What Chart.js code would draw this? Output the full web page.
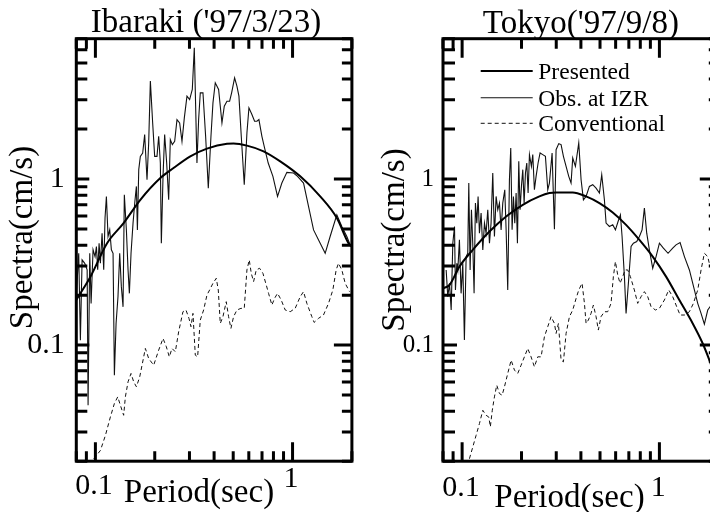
<!DOCTYPE html>
<html><head><meta charset="utf-8">
<script src="https://cdn.jsdelivr.net/npm/chart.js@4.4.1/dist/chart.umd.min.js"></script>
<style>
html,body{margin:0;padding:0;width:710px;height:512px;overflow:hidden;background:#fff;}
#wrap{position:relative;width:710px;height:512px;overflow:hidden;background:#fff;}
#c1{position:absolute;left:0;top:0;}
#c2{position:absolute;left:360px;top:0;}
</style></head><body>
<div id="wrap"><canvas id="c1" width="412" height="512"></canvas><canvas id="c2" width="380" height="512"></canvas></div>
<script>
const FONT = '"Liberation Serif", "Times New Roman", serif';

// ---------- shared axis definitions ----------
const seriesLabels = ['Presented', 'Obs. at IZR', 'Conventional'];
const xAxisTitle = 'Period(sec)';
const yAxisTitle = 'Spectra(cm/s)';
const xRange = [0.08, 2];
const yRange = [0.02, 7];
const xTickValues = [0.1, 1];
const xTickLabels = ['0.1', '1'];
const yTickValues = [0.1, 1];
const yTickLabels = ['0.1', '1'];
const xMajorTicks = [0.1, 1];
const xMinorTicks = [0.08, 0.09, 0.2, 0.3, 0.4, 0.5, 0.6, 0.7, 0.8, 0.9, 2];
const yMajorTicks = [0.1, 1];
const yMinorTicks = [0.02, 0.03, 0.04, 0.05, 0.06, 0.07, 0.08, 0.09, 0.2, 0.3, 0.4, 0.5, 0.6, 0.7, 0.8, 0.9, 2, 3, 4, 5, 6, 7];

// ---------- left panel: Ibaraki ----------
const leftTitle = "Ibaraki ('97/3/23)";
const leftPresentedX = [0.08, 0.0839, 0.0944, 0.1146, 0.139, 0.169, 0.2135, 0.249, 0.303, 0.368, 0.465, 0.502, 0.587, 0.713, 0.866, 1.094, 1.381, 1.678, 1.922, 2.0];
const leftPresentedY = [0.187, 0.205, 0.258, 0.411, 0.543, 0.750, 1.014, 1.165, 1.370, 1.524, 1.630, 1.636, 1.589, 1.469, 1.278, 1.038, 0.786, 0.582, 0.411, 0.39];
const leftObsX = [0.0801,0.0823,0.0839,0.0856,0.0883,0.0908,0.0918,0.0936,0.0951,0.0973,
0.0996,0.1012,0.1027,0.1044,0.1060,0.1081,0.1102,0.1119,0.1137,0.1159,
0.1182,0.1205,0.1229,0.1248,0.1273,0.1302,0.1328,0.1354,0.1381,0.1402,
0.1436,0.1464,0.1487,0.1516,0.1552,0.1583,0.1614,0.1633,0.1659,0.1690,
0.1737,0.1778,0.1827,0.1863,0.1900,0.1952,0.1998,0.2053,0.2094,0.2135,
0.2160,0.2203,0.2245,0.2299,0.2353,0.2399,0.2456,0.2524,0.2593,0.2675,
0.2749,0.2825,0.2914,0.3006,0.3101,0.3174,0.3274,0.3339,0.3404,0.3512,
0.3623,0.3738,0.3856,0.3947,0.4055,0.4216,0.4384,0.4505,0.4648,0.4795,
0.4908,0.5082,0.5222,0.5346,0.5494,0.5689,0.5869,0.6008,0.6221,0.6417,
0.6594,0.6751,0.6991,0.7211,0.7525,0.7950,0.8391,0.8826,0.9358,1.0116,
1.0600,1.137,1.205,1.278,1.381,1.464,1.551,1.677,1.778,1.885,1.960];
const leftObsY = [0.205,0.357,0.107,0.326,0.311,0.284,0.0434,0.357,0.178,0.375,
0.341,0.392,0.284,0.411,0.311,0.472,0.284,0.582,0.786,0.451,
0.494,0.375,0.357,0.0659,0.135,0.196,0.357,0.225,0.170,0.804,
0.494,0.284,0.205,0.357,0.543,0.717,0.903,0.494,1.139,1.370,
1.435,1.852,0.991,1.649,3.887,2.178,1.370,1.370,1.809,1.249,
0.411,1.038,1.852,1.249,0.750,1.727,1.612,1.688,2.281,2.178,
1.688,2.334,3.155,3.012,3.461,6.175,1.249,2.281,3.305,3.305,
1.809,0.882,1.809,2.875,3.798,3.461,2.178,2.746,2.943,2.943,
3.305,4.070,3.625,3.155,1.809,0.924,1.895,2.683,2.445,2.229,
2.229,2.281,1.809,1.539,1.249,1.038,0.786,0.946,1.097,1.087,
1.038,0.946,0.684,0.494,0.411,0.357,0.451,0.609,0.518,0.451,0.401];
const leftConvX = [0.0981,0.1060,0.1124,0.1191,0.1248,0.1298,0.1339,0.1391,0.1419,0.1464,
0.1516,0.1564,0.1614,0.1678,0.1758,0.1792,0.1863,0.1975,0.2094,0.2203,
0.2290,0.2371,0.2446,0.2543,0.2644,0.2780,0.2880,0.2983,0.3053,0.3125,
0.3211,0.3300,0.3404,0.3539,0.3680,0.3796,0.3947,0.4103,0.4200,0.4299,
0.4435,0.4610,0.4738,0.4868,0.5022,0.5222,0.5473,0.5689,0.5869,0.6031,
0.6174,0.6344,0.6545,0.6805,0.7074,0.7355,0.7557,0.7857,0.8104,0.8391,
0.8759,0.9178,0.9729,1.0314,1.0934,1.137,1.182,1.253,1.287,1.354,
1.435,1.522,1.601,1.664,1.710,1.778,1.849,1.945];
const leftConvY = [0.0207,0.0232,0.0286,0.0369,0.0445,0.0488,0.0434,0.0378,0.0488,0.0601,
0.0675,0.0601,0.0561,0.0644,0.0850,0.0955,0.0831,0.0757,0.0933,0.1097,
0.0977,0.0850,0.0955,0.0912,0.1203,0.1589,0.1627,0.1449,0.1291,0.1553,
0.0870,0.0850,0.1416,0.1627,0.2003,0.2148,0.2357,0.2526,0.2148,0.1351,
0.1483,0.1826,0.1483,0.1261,0.1483,0.1627,0.1665,0.1665,0.2836,0.3259,
0.2708,0.2412,0.2836,0.2903,0.2708,0.2302,0.2050,0.1743,0.1912,0.2050,
0.1869,0.1627,0.1589,0.1665,0.1957,0.2099,0.1784,0.1483,0.1370,0.1449,
0.1518,0.1784,0.2148,0.2836,0.3112,0.2836,0.2357,0.2099];

// ---------- right panel: Tokyo ----------
const rightTitle = "Tokyo('97/9/8)";
const rightPresentedX = [0.08, 0.0863, 0.0969, 0.1132, 0.1376, 0.1671, 0.2030, 0.2465, 0.2770, 0.2994, 0.3636, 0.4249, 0.4965, 0.5800, 0.6776, 0.7918, 0.9249, 1.081, 1.262, 1.475, 1.658, 1.792, 2.0];
const rightPresentedY = [0.2198, 0.2302, 0.2971, 0.3745, 0.4831, 0.5953, 0.7000, 0.7857, 0.8232, 0.8307, 0.8307, 0.7857, 0.7165, 0.6294, 0.5301, 0.4303, 0.3413, 0.2585, 0.1869, 0.1351, 0.1023, 0.0812, 0.0560];
const rightObsX = [0.0830,0.0846,0.0863,0.0880,0.0897,0.0915,0.0925,0.0940,0.0951,0.0969,
0.0988,0.1008,0.1027,0.1048,0.1068,0.1081,0.1098,0.1115,0.1132,0.1150,
0.1168,0.1187,0.1205,0.1224,0.1248,0.1273,0.1298,0.1323,0.1349,0.1376,
0.1402,0.1430,0.1458,0.1487,0.1516,0.1546,0.1576,0.1607,0.1645,0.1671,
0.1703,0.1737,0.1764,0.1792,0.1820,0.1849,0.1878,0.1907,0.1937,0.1967,
0.1998,0.2030,0.2062,0.2094,0.2127,0.2160,0.2194,0.2245,0.2281,0.2325,
0.2371,0.2427,0.2484,0.2563,0.2644,0.2717,0.2770,0.2858,0.2937,0.2994,
0.3089,0.3174,0.3262,0.3365,0.3471,0.3566,0.3636,0.3752,0.3901,0.4009,
0.4120,0.4249,0.4417,0.4593,0.4775,0.4965,0.5101,0.5262,0.5366,0.5579,
0.5800,0.5984,0.6173,0.6343,0.6468,0.6647,0.6776,0.6964,0.7184,0.7383,
0.7674,0.7918,0.8168,0.8392,0.8624,0.8896,0.9249,0.9616,1.000,1.0476,
1.106,1.168,1.214,1.273,1.339,1.419,1.504,1.564,1.626,1.690,
1.758,1.806,1.975];
const rightObsY = [0.2836,0.1957,0.2357,0.1627,0.4109,0.5179,0.2148,0.3112,0.2836,0.4303,
0.2050,0.3112,0.1072,0.3413,0.3574,0.9460,0.2836,0.6530,0.4109,0.2050,
0.7165,0.5428,0.7857,0.4721,0.6235,0.3745,0.5428,0.4721,0.6530,0.4109,
0.5428,1.087,0.4507,0.7857,0.6530,0.7165,0.4944,0.7165,0.8622,0.4944,
0.2148,0.9908,1.539,0.4944,0.7857,0.5428,0.8232,0.4109,1.278,0.6530,
0.9031,1.139,0.7165,1.087,1.249,0.8232,1.403,1.192,1.403,0.8622,
1.038,1.249,1.435,1.403,1.370,0.8622,0.9460,1.435,0.4990,1.503,
1.634,1.612,1.370,1.192,1.038,0.9460,1.339,1.192,1.649,0.9908,
0.7503,0.7857,0.9031,0.9243,0.8824,0.8232,1.062,0.7503,0.5428,0.5179,
0.5301,0.4944,0.5553,0.6091,0.4507,0.2585,0.1553,0.2357,0.3922,0.4109,
0.4205,0.4507,0.4944,0.6683,0.4721,0.3745,0.2903,0.3413,0.4109,0.3833,
0.3574,0.3833,0.4014,0.4147,0.3413,0.2836,0.2148,0.1784,0.1553,0.1338,
0.1627,0.1703,0.1957];
const rightConvX = [0.1089,0.1132,0.1177,0.1224,0.1273,0.1323,0.1365,0.1390,0.1422,0.1458,
0.1498,0.1546,0.1595,0.1639,0.1703,0.1772,0.1842,0.1914,0.1990,0.2069,
0.2151,0.2236,0.2325,0.2417,0.2513,0.2613,0.2717,0.2824,0.2937,0.2994,
0.3077,0.3174,0.3262,0.3365,0.3499,0.3636,0.3783,0.3901,0.4055,0.4169,
0.4249,0.4365,0.4503,0.4627,0.4775,0.4904,0.5058,0.5262,0.5469,0.5686,
0.5843,0.5984,0.6146,0.6316,0.6517,0.6696,0.6908,0.7126,0.7464,0.7762,
0.8072,0.8392,0.8726,0.9074,0.9541,1.000,1.060,1.115,1.168,1.224,
1.273,1.339,1.419,1.487,1.564,1.626,1.690,1.758,1.806,1.975];
const rightConvY = [0.0207,0.0243,0.0286,0.0337,0.0405,0.0378,0.0369,0.0322,0.0405,0.0488,
0.0574,0.0511,0.0499,0.0561,0.0675,0.0812,0.0707,0.0675,0.0757,0.0850,
0.0955,0.0850,0.0740,0.0850,0.0850,0.1123,0.1291,0.1483,0.1351,0.1176,
0.1351,0.0812,0.0793,0.1176,0.1483,0.1627,0.1912,0.2148,0.2357,0.1784,
0.1351,0.1416,0.1553,0.1743,0.1483,0.1232,0.1483,0.1589,0.1589,0.1784,
0.2585,0.3184,0.2646,0.2357,0.2585,0.2836,0.2836,0.2585,0.2148,0.1784,
0.1957,0.2099,0.1957,0.1703,0.1627,0.1665,0.1869,0.2148,0.1957,0.1703,
0.1518,0.1518,0.1589,0.1784,0.2148,0.2836,0.3574,0.3413,0.2971,0.2585];

// ---------- helpers ----------
function pts(xs, ys) { return xs.map((x, i) => ({x: x, y: ys[i]})); }

function makeDatasets(px, py, ox, oy, cx, cy) {
  return [
    {label: seriesLabels[0], data: pts(px, py), yAxisID: 'y', borderColor: '#000', borderWidth: 2, pointRadius: 0, cubicInterpolationMode: 'monotone', fill: false},
    {label: seriesLabels[1], data: pts(ox, oy), yAxisID: 'y', borderColor: '#111', borderWidth: 1.1, pointRadius: 0, tension: 0, fill: false},
    {label: seriesLabels[2], data: pts(cx, cy), yAxisID: 'y', borderColor: '#111', borderWidth: 1, borderDash: [4, 3], pointRadius: 0, tension: 0, fill: false}
  ];
}

const frameTicks = {
  id: 'frameTicks',
  afterDatasetsDraw(chart, args, o) {
    const {ctx, chartArea: a} = chart;
    const xs = chart.scales.x, ys = chart.scales.y;
    ctx.save();
    ctx.strokeStyle = '#000';
    ctx.lineWidth = o.lw;
    ctx.lineCap = 'butt';
    ctx.setLineDash([]);
    ctx.beginPath();
    const seg = (x1, y1, x2, y2) => { ctx.moveTo(x1, y1); ctx.lineTo(x2, y2); };
    xMajorTicks.forEach(v => { const p = xs.getPixelForValue(v); seg(p, a.top, p, a.top + o.xMajor); seg(p, a.bottom, p, a.bottom - o.xMajor); });
    xMinorTicks.forEach(v => { const p = xs.getPixelForValue(v); seg(p, a.top, p, a.top + o.xMinor); seg(p, a.bottom, p, a.bottom - o.xMinor); });
    yMajorTicks.forEach(v => { const p = ys.getPixelForValue(v); seg(a.left, p, a.left + o.yLMajor, p); seg(a.right, p, a.right - o.yRMajor, p); });
    yMinorTicks.forEach(v => { const p = ys.getPixelForValue(v); seg(a.left, p, a.left + o.yLMinor, p); seg(a.right, p, a.right - o.yRMinor, p); });
    ctx.stroke();
    ctx.strokeRect(a.left, a.top, a.right - a.left, a.bottom - a.top);
    ctx.restore();
  }
};

const panelText = {
  id: 'panelText',
  afterDraw(chart, args, o) {
    const ctx = chart.ctx;
    ctx.save();
    ctx.fillStyle = '#000';
    ctx.textBaseline = 'middle';
    ctx.textAlign = 'center';
    ctx.font = o.size + 'px ' + FONT;
    ctx.fillText(xAxisTitle, o.xtx, o.xty);
    ctx.save();
    ctx.translate(o.ytx, o.yty);
    ctx.rotate(-Math.PI / 2);
    ctx.fillText(yAxisTitle, 0, 0);
    ctx.restore();
    if (o.legend) {
      const L = o.legend;
      ctx.textAlign = 'left';
      ctx.font = L.size + 'px ' + FONT;
      chart.data.datasets.forEach((ds, i) => {
        const yy = L.rows[i];
        ctx.save();
        ctx.strokeStyle = ds.borderColor;
        ctx.lineWidth = ds.borderWidth;
        ctx.setLineDash(ds.borderDash || []);
        ctx.beginPath(); ctx.moveTo(L.x1, yy); ctx.lineTo(L.x2, yy); ctx.stroke();
        ctx.restore();
        ctx.fillText(ds.label, L.tx, yy + L.dy);
      });
    }
    ctx.restore();
  }
};

function makeConfig(title, datasets, lay) {
  const scales = {
    x: {
      type: 'logarithmic', position: 'bottom', min: xRange[0], max: xRange[1], bounds: 'data',
      grid: {display: false, drawTicks: false}, border: {display: false},
      afterBuildTicks: s => { s.ticks = xTickValues.map(v => ({value: v})); },
      afterFit: s => { s.height = lay.xAxisHeight; },
      ticks: {
        autoSkip: false, maxRotation: 0, minRotation: 0, padding: 0, color: '#000',
        labelOffset: lay.xLabelOffset,
        callback: (v, i) => xTickLabels[i],
        font: c => ({family: FONT, size: 30, lineHeight: (c.tick && c.tick.value === 1) ? lay.xLH1 : lay.xLH01})
      }
    },
    y: {
      type: 'logarithmic', position: 'left', min: yRange[0], max: yRange[1], bounds: 'data',
      grid: {display: false, drawTicks: false}, border: {display: false},
      afterBuildTicks: s => { s.ticks = yTickValues.map(v => ({value: v})); },
      afterFit: s => { s.width = lay.yAxisWidth; },
      ticks: {
        autoSkip: false, padding: lay.yPad, color: '#000',
        callback: (v, i) => yTickLabels[i],
        font: {family: FONT, size: lay.ySize}
      }
    }
  };
  if (lay.rightGap) {
    // empty right-hand box: keeps the full-width title centred where the original has it
    scales.gap = {
      type: 'linear', axis: 'y', position: 'right', display: true,
      grid: {display: false, drawTicks: false}, border: {display: false},
      ticks: {display: false},
      afterFit: s => { s.width = lay.rightGap; }
    };
  }
  return {
    type: 'line',
    data: {datasets: datasets},
    plugins: [frameTicks, panelText],
    options: {
      responsive: false,
      animation: false,
      events: [],
      layout: {padding: lay.padding},
      plugins: {
        legend: {display: false},
        tooltip: {enabled: false},
        title: {display: true, text: title, color: '#000', fullSize: lay.titleFull,
                font: {family: FONT, size: 33, weight: 'normal', lineHeight: 1},
                padding: lay.titlePad},
        frameTicks: lay.ticks,
        panelText: lay.text
      },
      scales: scales
    }
  };
}

Chart.defaults.color = '#000';
Chart.defaults.font.family = FONT;

new Chart(document.getElementById('c1'), makeConfig(leftTitle,
  makeDatasets(leftPresentedX, leftPresentedY, leftObsX, leftObsY, leftConvX, leftConvY), {
    padding: {left: 0, right: 0, top: 0, bottom: 0}, rightGap: 60.1,
    titleFull: true, titlePad: {top: 7.2, bottom: -1.5},
    xAxisHeight: 50.8, yAxisWidth: 76.3, yPad: 11.5, ySize: 30,
    xLabelOffset: -1.5, xLH01: 1.653, xLH1: 1.22,
    ticks: {lw: 3, xMajor: 19, xMinor: 10, yLMajor: 13, yLMinor: 11, yRMajor: 18, yRMinor: 10},
    text: {size: 33, xtx: 199, xty: 493.3, ytx: 23, yty: 237.5}
  }));

new Chart(document.getElementById('c2'), makeConfig(rightTitle,
  makeDatasets(rightPresentedX, rightPresentedY, rightObsX, rightObsY, rightConvX, rightConvY), {
    padding: {left: 0, right: 21.2, top: 0, bottom: 0},
    titleFull: false, titlePad: {top: 7.5, bottom: -1.8},
    xAxisHeight: 50.8, yAxisWidth: 83, yPad: 9, ySize: 25,
    xLabelOffset: -1.2, xLH01: 1.787, xLH1: 1.787,
    ticks: {lw: 3, xMajor: 19, xMinor: 10, yLMajor: 14, yLMinor: 12, yRMajor: 19, yRMinor: 10},
    text: {size: 33, xtx: 209.5, xty: 498.5, ytx: 35, yty: 240,
           legend: {x1: 120.7, x2: 172.7, tx: 178.3, rows: [71, 97.7, 123.3], size: 23.5, dy: 2}}
  }));
</script>
</body></html>
